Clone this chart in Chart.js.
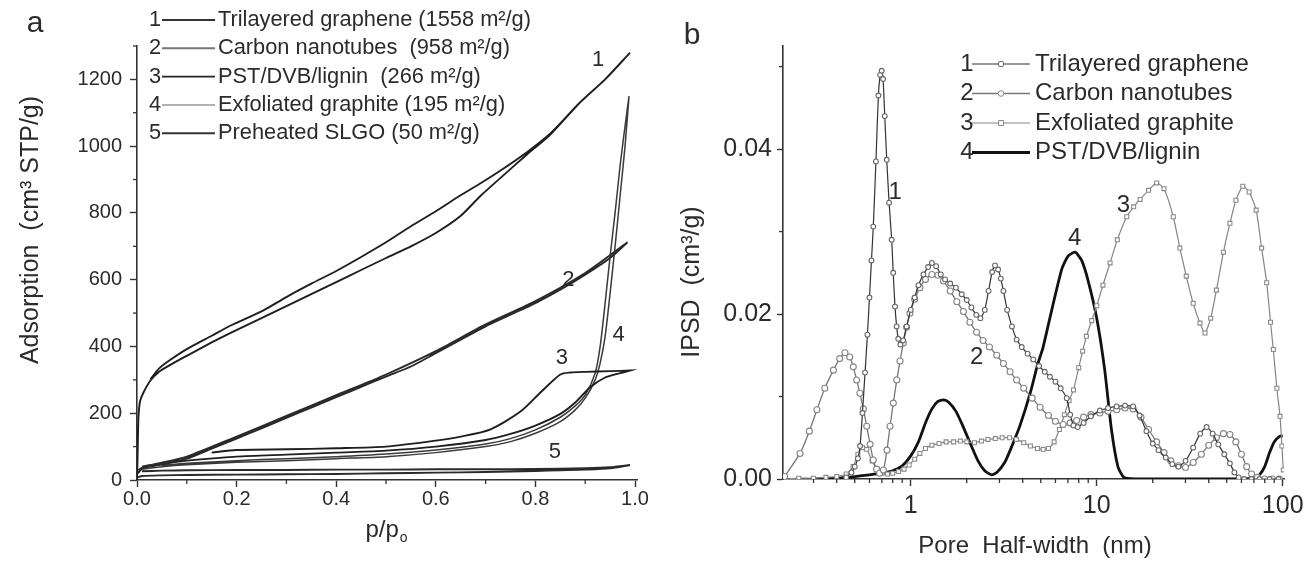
<!DOCTYPE html>
<html><head><meta charset="utf-8">
<script src="https://cdn.jsdelivr.net/npm/chart.js@4.4.1/dist/chart.umd.min.js"></script>
<style>
html,body{margin:0;padding:0;background:#fff;}
#wrap{position:relative;width:1306px;height:561px;overflow:hidden;}
.panel{position:absolute;top:0;width:653px;height:561px;}
</style></head><body>
<div id="wrap">
<div class="panel" style="left:0"><canvas id="ca"></canvas></div>
<div class="panel" style="left:653px"><canvas id="cb"></canvas></div>
</div>
<script>
// ---------------- Panel a : N2 adsorption isotherms ----------------
const isoNames = ['Trilayered graphene (1558 m\u00B2/g)', 'Carbon nanotubes  (958 m\u00B2/g)', 'PST/DVB/lignin  (266 m\u00B2/g)', 'Exfoliated graphite (195 m\u00B2/g)', 'Preheated SLGO (50 m\u00B2/g)'];

const tgAdsP = [0, 0.001, 0.002, 0.003, 0.006, 0.013, 0.027, 0.045, 0.067, 0.1, 0.15, 0.187, 0.25, 0.3, 0.35, 0.4, 0.45, 0.5, 0.55, 0.6, 0.649, 0.689, 0.73, 0.783, 0.83, 0.889, 0.94, 0.99];
const tgAdsV = [0, 60, 140, 190, 235, 262, 298, 325, 345, 372, 412, 440, 485, 521, 557, 593, 629, 665, 700, 740, 790, 850, 905, 975, 1035, 1130, 1200, 1280];
const tgDesP = [0.99, 0.94, 0.889, 0.83, 0.783, 0.73, 0.689, 0.649, 0.6, 0.55, 0.5, 0.45, 0.4, 0.35, 0.3, 0.25, 0.187, 0.15, 0.1, 0.067, 0.045, 0.027];
const tgDesV = [1280, 1200, 1130, 1038, 982, 927, 888, 852, 805, 760, 712, 668, 626, 588, 548, 505, 462, 432, 392, 360, 335, 302];

const cntAdsP = [0.003, 0.01, 0.03, 0.05, 0.1, 0.15, 0.2, 0.25, 0.3, 0.35, 0.4, 0.45, 0.5, 0.55, 0.6, 0.65, 0.7, 0.75, 0.8, 0.85, 0.9, 0.95, 0.985];
const cntAdsV = [30, 36, 42, 47, 64, 94, 124, 155, 186, 217, 248, 279, 310, 340, 380, 420, 460, 495, 530, 570, 615, 665, 712];
const cntDesP = [0.985, 0.9, 0.8, 0.7, 0.6, 0.5, 0.4, 0.3, 0.2, 0.1, 0.05, 0.01];
const cntDesV = [712, 620, 536, 466, 386, 316, 254, 192, 130, 70, 52, 40];

const pstAdsP = [0.002, 0.01, 0.03, 0.06, 0.1, 0.2, 0.3, 0.4, 0.5, 0.6, 0.7, 0.75, 0.8, 0.85, 0.88, 0.91, 0.94, 0.97, 0.99];
const pstAdsV = [20, 35, 42, 50, 58, 70, 76, 82, 88, 100, 120, 138, 163, 198, 232, 278, 307, 320, 328];
const pstDesP = [0.99, 0.95, 0.9, 0.87, 0.85, 0.81, 0.77, 0.71, 0.65, 0.6, 0.5, 0.4, 0.3, 0.2, 0.15];
const pstDesV = [328, 326, 324, 322, 316, 262, 205, 152, 130, 118, 100, 95, 92, 90, 82];

const egAdsP = [0.003, 0.01, 0.05, 0.1, 0.2, 0.3, 0.4, 0.5, 0.6, 0.7, 0.75, 0.8, 0.85, 0.88, 0.9, 0.92, 0.93, 0.94, 0.95, 0.96, 0.97, 0.98, 0.988];
const egAdsV = [25, 32, 40, 46, 53, 58, 64, 70, 82, 100, 115, 140, 175, 210, 245, 300, 350, 430, 560, 700, 850, 1000, 1150];
const egDesP = [0.988, 0.98, 0.97, 0.96, 0.95, 0.94, 0.93, 0.92, 0.9, 0.88, 0.85, 0.8, 0.75, 0.7, 0.6, 0.5, 0.4, 0.3, 0.2, 0.1, 0.05];
const egDesV = [1150, 1060, 940, 800, 670, 530, 400, 320, 255, 222, 188, 150, 124, 108, 90, 78, 70, 64, 58, 50, 44];

const sgAdsP = [0.002, 0.01, 0.05, 0.1, 0.2, 0.3, 0.4, 0.5, 0.6, 0.7, 0.8, 0.85, 0.9, 0.95, 0.99];
const sgAdsV = [8, 12, 14, 15, 16, 17, 18, 20, 22, 24, 27, 29, 31, 35, 45];
const sgDesP = [0.99, 0.95, 0.9, 0.8, 0.7, 0.6, 0.5, 0.4, 0.3, 0.2, 0.1, 0.05, 0.01];
const sgDesV = [45, 38, 35, 33, 32, 32, 31, 31, 30, 30, 29, 28, 26];

const isoXTicks = [0, 0.2, 0.4, 0.6, 0.8, 1.0];
const isoYTicks = [0, 200, 400, 600, 800, 1000, 1200];
const isoXMinor = [0.1, 0.3, 0.5, 0.7, 0.9];
const isoYMinor = [100, 300, 500, 700, 900, 1100, 1300];
const isoTags = ['1', '2', '3', '4', '5'];
const isoTagP = [0.926, 0.866, 0.853, 0.967, 0.839];
const isoTagV = [1258, 599, 365, 434, 85];

// ---------------- Panel b : pore size distributions ----------------
const psdNames = ['Trilayered graphene', 'Carbon nanotubes', 'Exfoliated graphite', 'PST/DVB/lignin'];

const tgW = [0.45, 0.48, 0.5, 0.52, 0.534, 0.55, 0.568, 0.585, 0.6, 0.615, 0.629, 0.65, 0.67, 0.685, 0.698, 0.71, 0.725, 0.743, 0.765, 0.79, 0.805, 0.823, 0.84, 0.857, 0.88, 0.91, 0.95, 1.0, 1.05, 1.1, 1.17, 1.24, 1.3, 1.37, 1.45, 1.53, 1.63, 1.75, 1.88, 2.0, 2.12, 2.25, 2.37, 2.5, 2.62, 2.74, 2.84, 2.95, 3.05, 3.15, 3.3, 3.5, 3.71, 3.95, 4.25, 4.56, 4.9, 5.25, 5.6, 6.0, 6.4, 6.9, 7.2, 7.5, 7.9, 8.5, 9.3, 10.4, 11.5, 12.8, 14.2, 15.7, 17, 18.5, 20, 21.5, 23.5, 25.5, 27.5, 30, 33, 36, 39, 42, 45, 48.5, 52, 55, 58, 62, 68, 75, 85, 95];
const tgD = [0.0002, 0.0008, 0.0015, 0.0025, 0.004, 0.008, 0.0129, 0.0175, 0.022, 0.0265, 0.0306, 0.0385, 0.0465, 0.049, 0.0495, 0.0485, 0.044, 0.0387, 0.0335, 0.029, 0.025, 0.0209, 0.0185, 0.017, 0.0163, 0.0168, 0.0185, 0.0205, 0.022, 0.0235, 0.0248, 0.0257, 0.0262, 0.0258, 0.0248, 0.0242, 0.0237, 0.0232, 0.0224, 0.0217, 0.0208, 0.0199, 0.0195, 0.0205, 0.0228, 0.0251, 0.0259, 0.0254, 0.0243, 0.0228, 0.0205, 0.0185, 0.0169, 0.016, 0.0152, 0.0145, 0.0137, 0.013, 0.0124, 0.0118, 0.011, 0.0098, 0.0078, 0.0065, 0.0063, 0.0068, 0.0076, 0.0083, 0.0086, 0.0088, 0.0089, 0.0088, 0.0077, 0.0058, 0.0043, 0.0035, 0.0026, 0.0018, 0.0015, 0.0022, 0.0038, 0.0055, 0.0063, 0.0055, 0.0042, 0.003, 0.0019, 0.0008, 0.0002, 0, 0, 0, 0, 0];

const cntW = [0.21, 0.254, 0.285, 0.313, 0.345, 0.384, 0.415, 0.443, 0.47, 0.491, 0.512, 0.533, 0.556, 0.58, 0.605, 0.629, 0.655, 0.68, 0.713, 0.745, 0.774, 0.806, 0.841, 0.876, 0.912, 0.95, 0.99, 1.05, 1.12, 1.2, 1.3, 1.4, 1.5, 1.63, 1.77, 1.92, 2.08, 2.26, 2.45, 2.65, 2.9, 3.15, 3.42, 3.71, 4.05, 4.5, 4.96, 5.5, 6.0, 6.6, 7.2, 7.8, 8.5, 9.3, 10.4, 11.5, 12.8, 14.2, 15.7, 17.3, 19, 21, 23, 25, 27.5, 30, 33, 36.5, 40, 44, 48, 52, 56, 60, 64, 68, 73, 80, 88, 96];
const cntD = [0.0003, 0.0031, 0.0058, 0.0084, 0.011, 0.0132, 0.0146, 0.0153, 0.0148, 0.0136, 0.012, 0.0104, 0.0085, 0.0064, 0.0042, 0.0023, 0.0012, 0.0007, 0.0011, 0.0035, 0.0064, 0.0092, 0.012, 0.0143, 0.0165, 0.0184, 0.0201, 0.0218, 0.0232, 0.0242, 0.0248, 0.0247, 0.024, 0.0228, 0.0215, 0.0203, 0.019, 0.0178, 0.0168, 0.016, 0.015, 0.014, 0.013, 0.012, 0.011, 0.0098, 0.0087, 0.0077, 0.007, 0.0066, 0.0068, 0.0071, 0.0075, 0.0078, 0.008, 0.0082, 0.0084, 0.0086, 0.0085, 0.0075, 0.006, 0.0045, 0.0032, 0.0022, 0.0016, 0.0014, 0.002, 0.003, 0.0041, 0.005, 0.0055, 0.0054, 0.0045, 0.003, 0.0015, 0.0006, 0.0002, 0, 0, 0];

const egW = [0.21, 0.25, 0.3, 0.35, 0.4, 0.45, 0.49, 0.52, 0.55, 0.58, 0.62, 0.66, 0.7, 0.75, 0.8, 0.86, 0.92, 0.98, 1.05, 1.12, 1.2, 1.3, 1.42, 1.55, 1.7, 1.85, 2.0, 2.2, 2.4, 2.6, 2.85, 3.1, 3.4, 3.7, 4.05, 4.4, 4.8, 5.15, 5.5, 5.9, 6.3, 6.7, 7.1, 7.5, 8.0, 8.4, 8.8, 9.4, 10, 10.8, 11.8, 12.9, 14.5, 15.8, 17.1, 19, 21, 23, 25.8, 28, 30.3, 33, 35.9, 38.2, 41, 44, 48, 52, 56, 61, 66, 72, 77, 82, 86, 89, 93, 96.7, 99, 100.7];
const egD = [0, 0.0001, 0.0001, 0.0002, 0.0003, 0.0006, 0.0015, 0.003, 0.0038, 0.0036, 0.0022, 0.0012, 0.0007, 0.0006, 0.0007, 0.0009, 0.0012, 0.0017, 0.0024, 0.0031, 0.0037, 0.0041, 0.0043, 0.0045, 0.0045, 0.0046, 0.0045, 0.0044, 0.0046, 0.0048, 0.0049, 0.005, 0.005, 0.0048, 0.0044, 0.004, 0.0037, 0.0036, 0.0037, 0.0045, 0.006, 0.0078, 0.0095, 0.0108, 0.0135, 0.0155, 0.0173, 0.0192, 0.021, 0.0235, 0.0262, 0.029, 0.0318, 0.033, 0.0339, 0.035, 0.0359, 0.0352, 0.0318, 0.028, 0.0246, 0.0213, 0.0189, 0.0177, 0.0195, 0.0229, 0.0275, 0.031, 0.0338, 0.0355, 0.0348, 0.0326, 0.028, 0.0238, 0.019, 0.0157, 0.011, 0.0076, 0.004, 0.0011];

const pstW = [0.3, 0.4, 0.5, 0.6, 0.7, 0.8, 0.9, 1.0, 1.1, 1.2, 1.3, 1.4, 1.5, 1.6, 1.75, 1.9, 2.1, 2.3, 2.5, 2.72, 2.9, 3.2, 3.5, 3.87, 4.4, 4.8, 5.15, 5.8, 6.5, 7.0, 7.65, 8.3, 9.0, 10.0, 11.0, 12.0, 13.0, 14.0, 16, 20, 30, 40, 50, 60, 70, 75, 80, 85, 90, 96.7, 100];
const pstD = [0, 0.0001, 0.0003, 0.0005, 0.0007, 0.001, 0.0016, 0.0028, 0.0045, 0.0068, 0.0085, 0.0094, 0.0096, 0.0093, 0.0082, 0.0065, 0.0042, 0.0022, 0.001, 0.0005, 0.0008, 0.002, 0.004, 0.0065, 0.0105, 0.0138, 0.016, 0.021, 0.0255, 0.027, 0.0275, 0.0265, 0.024, 0.0195, 0.0135, 0.006, 0.0015, 0.0002, 0, 0, 0, 0, 0, 0, 0.0001, 0.0005, 0.0015, 0.0032, 0.0045, 0.0052, 0.0052];

const psdXTicks = [1, 10, 100];
const psdYTicks = [0, 0.02, 0.04];
const psdXMinor = [0.3, 0.4, 0.5, 0.6, 0.7, 0.8, 0.9, 2, 3, 4, 5, 6, 7, 8, 9, 20, 30, 40, 50, 60, 70, 80, 90];
const psdYMinor = [0.01, 0.03, 0.05];
const psdTags = ['1', '2', '3', '4'];
const psdTagW = [0.824, 2.26, 13.9, 7.62];
const psdTagD = [0.0347, 0.0147, 0.0332, 0.0292];

// ---------------- helpers ----------------
const FONT = '"Liberation Sans", Arial, Helvetica, sans-serif';
const INK = '#2b2b2b';
function pts(xs, ys) { return xs.map((x, i) => ({ x: x, y: ys[i] })); }

const deco = {
  id: 'deco',
  afterDraw(chart, args, o) {
    const ctx = chart.ctx, xs = chart.scales.x, ys = chart.scales.y;
    ctx.save();
    ctx.strokeStyle = '#333'; ctx.lineWidth = 1.3;
    o.minorX.forEach(v => { const p = xs.getPixelForValue(v); ctx.beginPath(); ctx.moveTo(p, ys.bottom); ctx.lineTo(p, ys.bottom + o.minorLen); ctx.stroke(); });
    o.minorY.forEach(v => { const p = ys.getPixelForValue(v); ctx.beginPath(); ctx.moveTo(xs.left, p); ctx.lineTo(xs.left - o.minorLen, p); ctx.stroke(); });
    ctx.fillStyle = INK; ctx.textAlign = 'center'; ctx.textBaseline = 'middle';
    ctx.font = o.tagFont;
    o.tags.forEach(t => ctx.fillText(t.t, xs.getPixelForValue(t.x), ys.getPixelForValue(t.y)));
    ctx.font = '30px ' + FONT;
    ctx.fillText(o.letter.t, o.letter.x, o.letter.y);
    o.titles.forEach(tt => {
      ctx.save();
      ctx.translate(tt.x, tt.y);
      if (tt.rot) ctx.rotate(-Math.PI / 2);
      ctx.font = tt.size + 'px ' + FONT;
      let w = ctx.measureText(tt.t).width;
      let sw = 0;
      if (tt.sub) { ctx.font = Math.round(tt.size * 0.6) + 'px ' + FONT; sw = ctx.measureText(tt.sub).width; }
      const x0 = -(w + sw) / 2;
      ctx.textAlign = 'left';
      ctx.font = tt.size + 'px ' + FONT;
      ctx.fillText(tt.t, x0, 0);
      if (tt.sub) { ctx.font = Math.round(tt.size * 0.6) + 'px ' + FONT; ctx.fillText(tt.sub, x0 + w + 1, tt.size * 0.35); }
      ctx.restore();
    });
    const L = o.legend;
    chart.data.datasets.forEach((d, i) => {
      const y = L.y0 + i * L.dy;
      ctx.font = L.size + 'px ' + FONT;
      ctx.fillStyle = INK; ctx.textAlign = 'center'; ctx.textBaseline = 'middle';
      ctx.fillText(String(i + 1), L.numX, y);
      ctx.strokeStyle = d.legendColor || d.borderColor; ctx.lineWidth = d.borderWidth;
      ctx.beginPath(); ctx.moveTo(L.x1, y); ctx.lineTo(L.x2, y); ctx.stroke();
      if (d.pointRadius > 0) {
        const cx = (L.x1 + L.x2) / 2;
        ctx.fillStyle = '#fff'; ctx.strokeStyle = d.pointBorderColor; ctx.lineWidth = 1;
        ctx.beginPath();
        if (d.pointStyle === 'rect') { ctx.rect(cx - 2.5, y - 2.5, 5, 5); }
        else { ctx.arc(cx, y, 2.8, 0, Math.PI * 2); }
        ctx.fill(); ctx.stroke();
      }
      ctx.fillStyle = INK; ctx.textAlign = 'left';
      ctx.fillText(d.label, L.textX, y);
    });
    ctx.restore();
  }
};

function axisCommon(size, tickLen, pad) {
  return {
    ticks: { font: { family: FONT, size: size }, color: INK, padding: pad, maxRotation: 0, autoSkip: false },
    grid: { drawOnChartArea: false, drawTicks: true, tickLength: tickLen, color: '#333', tickWidth: 1.4 },
    border: { display: true, color: '#333', width: 1.6 }
  };
}

// ---------------- chart a ----------------
const isoSets = [
  [tgAdsP, tgAdsV, tgDesP, tgDesV, '#1e1e1e', 1.9, '#333'],
  [cntAdsP, cntAdsV, cntDesP, cntDesV, '#2a2a2a', 1.9, '#777'],
  [pstAdsP, pstAdsV, pstDesP, pstDesV, '#1e1e1e', 1.9, '#222'],
  [egAdsP, egAdsV, egDesP, egDesV, '#3a3a3a', 1.5, '#999'],
  [sgAdsP, sgAdsV, sgDesP, sgDesV, '#2a2a2a', 1.9, '#333']
];
const axA = axisCommon(20, 7, 0);
const axAy = axisCommon(20, 7, 8);
new Chart(document.getElementById('ca'), {
  type: 'scatter',
  data: {
    datasets: isoSets.map((s, i) => ({
      label: isoNames[i],
      data: pts(s[0], s[1]).concat(pts(s[2], s[3])),
      showLine: true, borderColor: s[4], borderWidth: s[5], legendColor: s[6],
      pointRadius: 0, tension: 0.25, fill: false
    }))
  },
  options: {
    responsive: true, maintainAspectRatio: false, animation: false, devicePixelRatio: 1,
    layout: { padding: { top: 46, right: 16, left: 0, bottom: 0 } },
    plugins: {
      legend: { display: false }, tooltip: { enabled: false },
      deco: {
        minorX: isoXMinor, minorY: isoYMinor, minorLen: 4,
        tagFont: '22px ' + FONT,
        tags: isoTags.map((t, i) => ({ t: t, x: isoTagP[i], y: isoTagV[i] })),
        letter: { t: 'a', x: 35, y: 24 },
        titles: [
          { t: 'Adsorption  (cm\u00B3 STP/g)', x: 31, y: 230, rot: true, size: 25 },
          { t: 'p/p', sub: 'o', x: 386, y: 530, size: 24 }
        ],
        legend: { size: 21.8, numX: 155, x1: 162, x2: 215, textX: 218, y0: 20, dy: 28.3 }
      }
    },
    scales: {
      x: Object.assign({}, axA, {
        type: 'linear', min: 0, max: 1.004,
        afterBuildTicks: s => { s.ticks = isoXTicks.map(v => ({ value: v })); },
        afterFit: s => { s.height = 81; s.paddingLeft = 0; s.paddingRight = 0; },
        ticks: Object.assign({}, axA.ticks, { callback: v => Number(v).toFixed(1) })
      }),
      y: Object.assign({}, axAy, {
        type: 'linear', min: 0, max: 1300,
        afterBuildTicks: s => { s.ticks = isoYTicks.map(v => ({ value: v })); },
        afterFit: s => { s.width = 137; s.paddingTop = 0; s.paddingBottom = 0; },
        ticks: Object.assign({}, axAy.ticks, { callback: v => String(v) })
      })
    }
  },
  plugins: [deco]
});

// ---------------- chart b ----------------
const psdSets = [
  [tgW, tgD, '#333', 1.2, 2.4, 'circle', '#666'],
  [cntW, cntD, '#777', 1.3, 3.0, 'circle', '#858585'],
  [egW, egD, '#858585', 1.2, 2.8, 'rect', '#8a8a8a'],
  [pstW, pstD, '#111', 2.8, 0, 'circle', '#111']
];
const axB = axisCommon(25, 7, 5);
const axBy = axisCommon(25, 6, 5);
new Chart(document.getElementById('cb'), {
  type: 'scatter',
  data: {
    datasets: psdSets.map((s, i) => ({
      label: psdNames[i],
      data: pts(s[0], s[1]),
      showLine: true, borderColor: s[2], borderWidth: s[3],
      pointRadius: s[4], pointStyle: s[5], pointBorderColor: s[6], pointBackgroundColor: '#fff', pointBorderWidth: 1.1,
      tension: 0.2, fill: false
    }))
  },
  options: {
    responsive: true, maintainAspectRatio: false, animation: false, devicePixelRatio: 1,
    layout: { padding: { top: 46, right: 22, left: 0, bottom: 0 } },
    plugins: {
      legend: { display: false }, tooltip: { enabled: false },
      deco: {
        minorX: psdXMinor, minorY: psdYMinor, minorLen: 4,
        tagFont: '24px ' + FONT,
        tags: psdTags.map((t, i) => ({ t: t, x: psdTagW[i], y: psdTagD[i] })),
        letter: { t: 'b', x: 39, y: 36 },
        titles: [
          { t: 'IPSD  (cm\u00B3/g)', x: 39, y: 282, rot: true, size: 25 },
          { t: 'Pore  Half-width  (nm)', x: 382, y: 546, size: 24 }
        ],
        legend: { size: 24, numX: 314, x1: 319, x2: 377, textX: 382, y0: 64, dy: 29.5 }
      }
    },
    scales: {
      x: Object.assign({}, axB, {
        type: 'logarithmic', min: 0.2057, max: 101.6,
        afterBuildTicks: s => { s.ticks = psdXTicks.map(v => ({ value: v })); },
        afterFit: s => { s.height = 82; s.paddingLeft = 0; s.paddingRight = 0; },
        ticks: Object.assign({}, axB.ticks, { callback: v => String(v) })
      }),
      y: Object.assign({}, axBy, {
        type: 'linear', min: 0, max: 0.0525,
        afterBuildTicks: s => { s.ticks = psdYTicks.map(v => ({ value: v })); },
        afterFit: s => { s.width = 130; s.paddingTop = 0; s.paddingBottom = 0; },
        ticks: Object.assign({}, axBy.ticks, { callback: v => Number(v).toFixed(2) })
      })
    }
  },
  plugins: [deco]
});
</script>
</body></html>
